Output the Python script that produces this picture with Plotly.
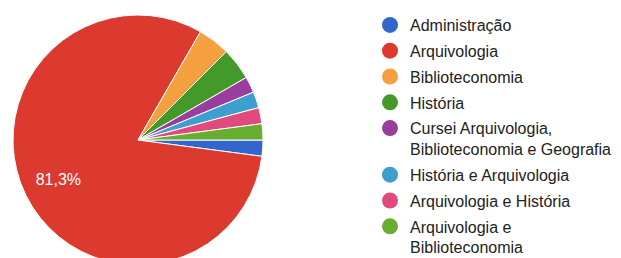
import plotly.graph_objects as go

labels = [
    "Administração",
    "Arquivologia",
    "Biblioteconomia",
    "História",
    "Cursei Arquivologia,<br>Biblioteconomia e Geografia",
    "História e Arquivologia",
    "Arquivologia e História",
    "Arquivologia e<br>Biblioteconomia",
]
values = [1, 39, 2, 2, 1, 1, 1, 1]
colors = ["#3366cc", "#dc3a2f", "#f5a040", "#439a2a", "#993d9f", "#3d9fcd", "#e04a7c", "#68ad2e"]
shown_label = [False, True, False, False, False, False, False, False]

# figure is drawn inside the page body (8px default margin)
W, H = 613, 258
cx, cy, r = 130, 132, 125
dom = dict(x=[(cx - r) / W, (cx + r) / W], y=[(H - cy - r) / H, (H - cy + r) / H])

fig = go.Figure()
fig.add_trace(go.Pie(
    labels=labels,
    values=values,
    sort=False,
    direction="clockwise",
    rotation=90,
    marker=dict(colors=colors, line=dict(color="white", width=1)),
    textinfo="none",
    hoverinfo="label+percent",
    showlegend=False,
    domain=dom,
))
# transparent ring carrying the percentage label further out in the slice
fig.add_trace(go.Pie(
    labels=labels,
    values=values,
    sort=False,
    direction="clockwise",
    rotation=90,
    hole=0.42,
    marker=dict(colors=["rgba(0,0,0,0)"] * len(labels), line=dict(width=0)),
    texttemplate=["%{percent:.1%}" if s else "" for s in shown_label],
    textposition="inside",
    insidetextorientation="horizontal",
    textfont=dict(color="white", size=16, family="Liberation Sans, Arial"),
    hoverinfo="skip",
    showlegend=False,
    domain=dom,
))
for lab, col in zip(labels, colors):
    fig.add_trace(go.Scatter(
        x=[None], y=[None], mode="markers", name=lab, legendgroup=lab,
        marker=dict(color=col, size=16, symbol="circle"),
    ))

fig.update_layout(
    width=W, height=H,
    margin=dict(l=0, r=0, t=0, b=0),
    paper_bgcolor="white", plot_bgcolor="white",
    separators=",.",
    xaxis=dict(visible=False), yaxis=dict(visible=False),
    showlegend=True,
    legend=dict(
        x=362 / W, xanchor="left", y=1, yanchor="top",
        font=dict(family="Liberation Sans, Arial", size=16, color="#222222"),
        valign="top", itemwidth=30, tracegroupgap=2,
        bgcolor="rgba(0,0,0,0)", borderwidth=0,
    ),
)
fig.write_html("out.html")
